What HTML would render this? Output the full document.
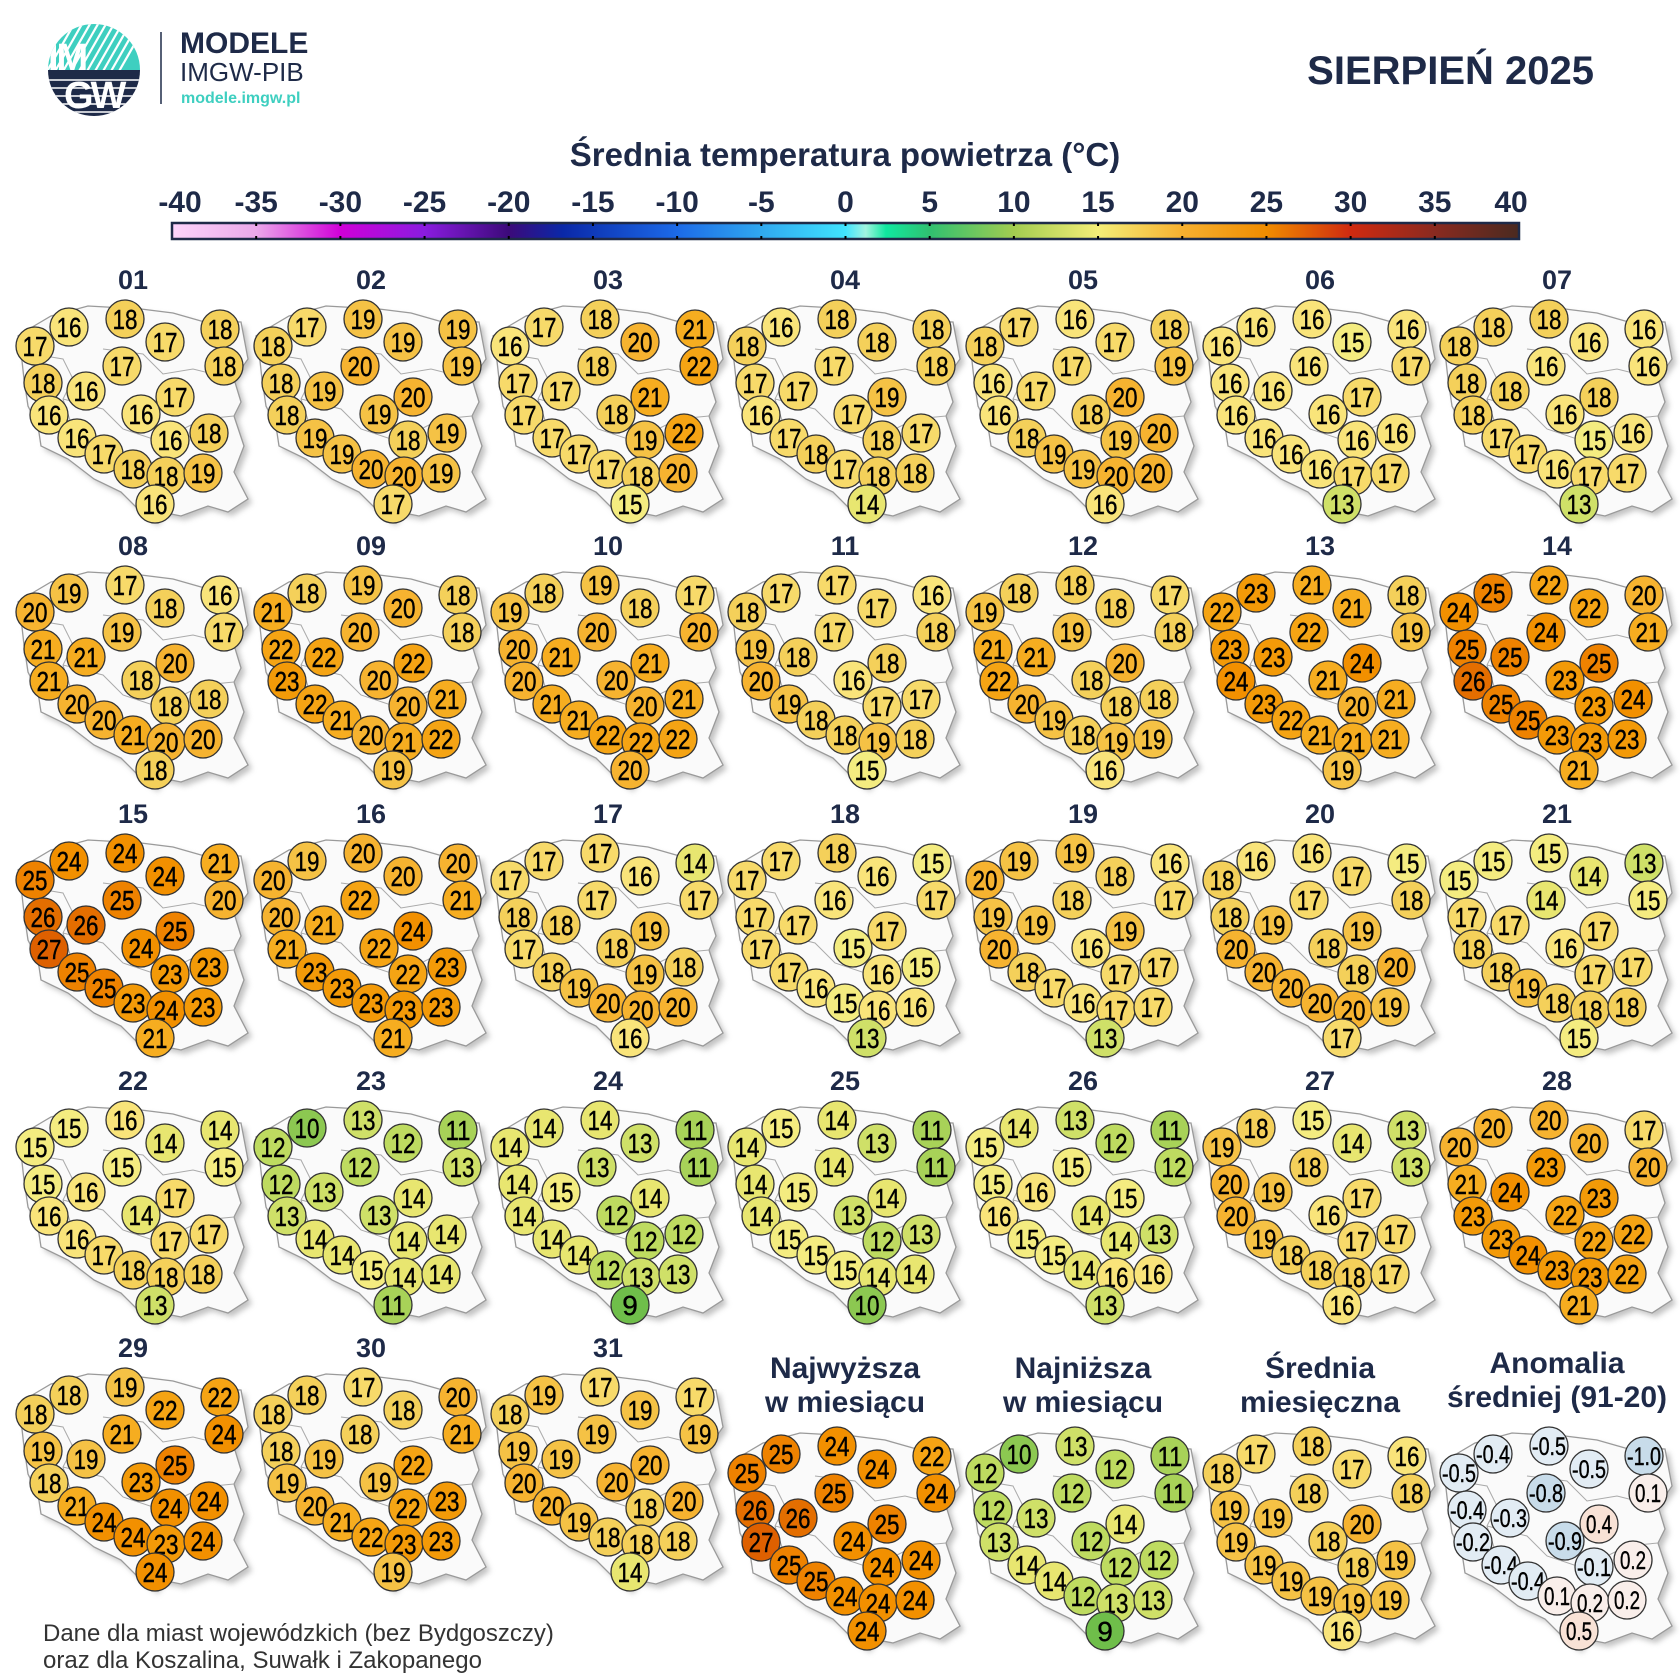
<!DOCTYPE html>
<html><head><meta charset="utf-8">
<style>
html,body{margin:0;padding:0;background:#fff;}
body{width:1680px;height:1680px;overflow:hidden;}
svg{display:block;}
</style></head>
<body>
<svg id="s" width="1680" height="1680" viewBox="0 0 1680 1680" xmlns="http://www.w3.org/2000/svg" font-family="Liberation Sans, sans-serif">
<defs>
<filter id="sh" x="-20%" y="-20%" width="140%" height="140%"><feGaussianBlur stdDeviation="3"/></filter>
<linearGradient id="cb" x1="0" x2="1" y1="0" y2="0">
<stop offset="0" stop-color="#fcd4fa"/>
<stop offset="0.0625" stop-color="#eba8ea"/>
<stop offset="0.125" stop-color="#d000d8"/>
<stop offset="0.1875" stop-color="#8a1ce0"/>
<stop offset="0.25" stop-color="#3c0a7a"/>
<stop offset="0.29" stop-color="#0a28a8"/>
<stop offset="0.375" stop-color="#1c6ae8"/>
<stop offset="0.4375" stop-color="#30a8f0"/>
<stop offset="0.5" stop-color="#40e4ff"/>
<stop offset="0.515" stop-color="#a0f4e0"/>
<stop offset="0.53" stop-color="#10e8a0"/>
<stop offset="0.5625" stop-color="#30c070"/>
<stop offset="0.625" stop-color="#a2cc50"/>
<stop offset="0.6875" stop-color="#f4ee78"/>
<stop offset="0.75" stop-color="#f6b030"/>
<stop offset="0.8125" stop-color="#f08c00"/>
<stop offset="0.875" stop-color="#d02a10"/>
<stop offset="0.9375" stop-color="#8a2a20"/>
<stop offset="1" stop-color="#4a2a20"/>
</linearGradient>
<clipPath id="lc"><circle cx="94" cy="70" r="46"/></clipPath>
</defs>
<g id="hdr">
<g clip-path="url(#lc)">
<rect x="48" y="24" width="92" height="46" fill="#3ecfc0"/>
<g stroke="#fff" stroke-width="2.2">
<line x1="50" y1="80" x2="90" y2="10"/><line x1="58" y1="80" x2="98" y2="10"/><line x1="66" y1="80" x2="106" y2="10"/><line x1="74" y1="80" x2="114" y2="10"/><line x1="82" y1="80" x2="122" y2="10"/><line x1="90" y1="80" x2="130" y2="10"/><line x1="98" y1="80" x2="138" y2="10"/><line x1="106" y1="80" x2="146" y2="10"/><line x1="114" y1="80" x2="154" y2="10"/><line x1="42" y1="80" x2="82" y2="10"/>
</g>
<rect x="48" y="70" width="92" height="48" fill="#1e2a48"/>
<g stroke="#fff" stroke-width="1.6"><line x1="40" y1="80" x2="150" y2="80"/><line x1="40" y1="88" x2="150" y2="88"/><line x1="40" y1="96" x2="150" y2="96"/><line x1="40" y1="104" x2="150" y2="104"/><line x1="40" y1="112" x2="150" y2="112"/></g>
<text x="48" y="70" font-size="38" font-weight="bold" fill="#fff" letter-spacing="-2">IM</text>
<text x="64" y="108" font-size="38" font-weight="bold" fill="#fff" letter-spacing="-3">GW</text>
</g>
<line x1="161" y1="32" x2="161" y2="104" stroke="#1e2a48" stroke-width="1.5"/>
<text x="180" y="53" font-size="30" font-weight="bold" fill="#1e2a48">MODELE</text>
<text x="180" y="81" font-size="26" fill="#1e2a48">IMGW-PIB</text>
<text x="181" y="103" font-size="16" font-weight="bold" fill="#3ecfc0">modele.imgw.pl</text>
<text x="1594" y="84" font-size="40" font-weight="bold" fill="#1e2a48" text-anchor="end">SIERPIEŃ 2025</text>
<text x="845" y="166" font-size="33" font-weight="bold" fill="#1e2a48" text-anchor="middle">Średnia temperatura powietrza (°C)</text>
<rect x="172" y="223" width="1347" height="16" fill="url(#cb)" stroke="#1e2a48" stroke-width="2.5"/>
</g>
<text x="43" y="1641" font-size="24" fill="#333">Dane dla miast wojewódzkich (bez Bydgoszczy)</text>
<text x="43" y="1668" font-size="24" fill="#333">oraz dla Koszalina, Suwałk i Zakopanego</text>
</svg>
<script>
var s=document.getElementById('s'),NS='http://www.w3.org/2000/svg';
function el(t,a,txt){var e=document.createElementNS(NS,t);for(var k in a)e.setAttribute(k,a[k]);if(txt!==undefined)e.textContent=txt;s.appendChild(e);return e;}
for(var i=0;i<=16;i++){var x=172+i*1347/16;var v=-40+5*i;
if(i>0&&i<16){el('line',{x1:x,y1:223,x2:x,y2:226,stroke:'#000','stroke-width':2});el('line',{x1:x,y1:236,x2:x,y2:239,stroke:'#000','stroke-width':2});}
el('text',{x:x+(i==0?8:(i==16?-8:0)),y:212,'font-size':30,'font-weight':'bold',fill:'#1e2a48','text-anchor':'middle'},String(v));}
var P=[[-64,48],[-8,40],[32,63],[87,50],[-98,67],[91,87],[-11,87],[-90,104],[-47,112],[42,118],[-84,136],[8,135],[-56,159],[37,161],[76,154],[-29,175],[0,190],[33,197],[70,194],[22,225]];
var OL=[[-82,37],[-45,27],[8,30],[40,34],[68,42],[108,43],[115,80],[101,100],[108,123],[101,137],[111,167],[101,193],[115,220],[95,233],[75,227],[48,237],[28,233],[21,243],[8,233],[-12,213],[-39,200],[-65,180],[-92,167],[-95,147],[-105,127],[-109,100],[-112,73],[-115,57],[-99,47]];
var D=[
[16,18,17,18,17,18,17,18,16,17,16,16,16,16,18,17,18,18,19,16],
[17,19,19,19,18,19,20,18,19,20,18,19,19,18,19,19,20,20,19,17],
[17,18,20,21,16,22,18,17,17,21,17,18,17,19,22,17,17,18,20,15],
[16,18,18,18,18,18,17,17,17,19,16,17,17,18,17,18,17,18,18,14],
[17,16,17,18,18,19,17,16,17,20,16,18,18,19,20,19,19,20,20,16],
[16,16,15,16,16,17,16,16,16,17,16,16,16,16,16,16,16,17,17,13],
[18,18,16,16,18,16,16,18,18,18,18,16,17,15,16,17,16,17,17,13],
[19,17,18,16,20,17,19,21,21,20,21,18,20,18,18,20,21,20,20,18],
[18,19,20,18,21,18,20,22,22,22,23,20,22,20,21,21,20,21,22,19],
[18,19,18,17,19,20,20,20,21,21,20,20,21,20,21,21,22,22,22,20],
[17,17,17,16,18,18,17,19,18,18,20,16,19,17,17,18,18,19,18,15],
[18,18,18,17,19,18,19,21,21,20,22,18,20,18,18,19,18,19,19,16],
[23,21,21,18,22,19,22,23,23,24,24,21,23,20,21,22,21,21,21,19],
[25,22,22,20,24,21,24,25,25,25,26,23,25,23,24,25,23,23,23,21],
[24,24,24,21,25,20,25,26,26,25,27,24,25,23,23,25,23,24,23,21],
[19,20,20,20,20,21,22,20,21,24,21,22,23,22,23,23,23,23,23,21],
[17,17,16,14,17,17,17,18,18,19,17,18,18,19,18,19,20,20,20,16],
[17,18,16,15,17,17,16,17,17,17,17,15,17,16,15,16,15,16,16,13],
[19,19,18,16,20,17,18,19,19,19,20,16,18,17,17,17,16,17,17,13],
[16,16,17,15,18,18,17,18,19,19,20,18,20,18,20,20,20,20,19,17],
[15,15,14,13,15,15,14,17,17,17,18,16,18,17,17,19,18,18,18,15],
[15,16,14,14,15,15,15,15,16,17,16,14,16,17,17,17,18,18,18,13],
[10,13,12,11,12,13,12,12,13,14,13,13,14,14,14,14,15,14,14,11],
[14,14,13,11,14,11,13,14,15,14,14,12,14,12,12,14,12,13,13,9],
[15,14,13,11,14,11,14,14,15,14,14,13,15,12,13,15,15,14,14,10],
[14,13,12,11,15,12,15,15,16,15,16,14,15,14,13,15,14,16,16,13],
[18,15,14,13,19,13,18,20,19,17,20,16,19,17,17,18,18,18,17,16],
[20,20,20,17,20,20,23,21,24,23,23,22,23,22,22,24,23,23,22,21],
[18,19,22,22,18,24,21,19,19,25,18,23,21,24,24,24,24,23,24,24],
[18,17,18,20,18,21,18,18,19,22,19,19,20,22,23,21,22,23,23,19],
[19,17,19,17,18,19,19,19,19,20,20,20,20,18,20,19,18,18,18,14]];
var MX=[25,24,24,22,25,24,25,26,26,25,27,24,25,24,24,25,24,24,24,24];
var MN=[10,13,12,11,12,11,12,12,13,14,13,12,14,12,12,14,12,13,13,9];
var AV=[17,18,17,16,18,18,18,19,19,20,19,18,19,18,19,19,19,19,19,16];
var AN=['-0.4','-0.5','-0.5','-1.0','-0.5','0.1','-0.8','-0.4','-0.3','0.4','-0.2','-0.9','-0.4','-0.1','0.2','-0.4','0.1','0.2','0.2','0.5'];
var CS=[[9,[111,190,74]],[11,[168,210,88]],[12,[190,219,96]],[13,[207,224,104]],[14,[232,230,112]],[15,[244,236,128]],[16,[249,228,122]],[18,[244,208,90]],[20,[246,179,48]],[21,[246,173,32]],[23,[243,154,8]],[24,[242,144,0]],[25,[238,130,0]],[26,[228,110,0]],[27,[222,96,0]]];
function col(v){if(v<=CS[0][0])return 'rgb('+CS[0][1]+')';for(var i=1;i<CS.length;i++){if(v<=CS[i][0]){var a=CS[i-1],b=CS[i],t=(v-a[0])/(b[0]-a[0]);return 'rgb('+[0,1,2].map(function(k){return Math.round(a[1][k]+(b[1][k]-a[1][k])*t)}).join(',')+')';}}return 'rgb('+CS[CS.length-1][1]+')';}
function acol(v){v=parseFloat(v);if(v<=-0.8)return '#c8dcea';if(v<0)return '#e2ecf4';if(v>=0.4)return '#f8e2d6';return '#f9eeea';}
function map(cx,cy,vals,anom){
var pts=OL.map(function(p){return (cx+p[0])+','+(cy+p[1])}).join(' ');
var sp=OL.map(function(p){return (cx+p[0]+4)+','+(cy+p[1]+4)}).join(' ');
el('polygon',{points:sp,fill:'#999',opacity:0.6,filter:'url(#sh)'});
el('polygon',{points:pts,fill:'#fafafa',stroke:'#9a9a9a','stroke-width':1.3});
el('polyline',{points:[[-100,75],[-70,80],[-60,100],[-70,120],[-60,150]].map(function(p){return (cx+p[0])+','+(cy+p[1])}).join(' '),fill:'none',stroke:'#aaa','stroke-width':1});
el('polyline',{points:[[-30,70],[10,75],[30,95],[60,90],[80,95],[101,100]].map(function(p){return (cx+p[0])+','+(cy+p[1])}).join(' '),fill:'none',stroke:'#aaa','stroke-width':1});
el('polyline',{points:[[-70,120],[-30,130],[-10,150],[20,160],[50,150],[70,140],[101,137]].map(function(p){return (cx+p[0])+','+(cy+p[1])}).join(' '),fill:'none',stroke:'#aaa','stroke-width':1});
for(var i=0;i<20;i++){var x=cx+P[i][0],y=cy+P[i][1];var t=String(vals[i]);
el('circle',{cx:x,cy:y,r:19,fill:anom?acol(vals[i]):col(vals[i]),stroke:'#333','stroke-width':1.3});
var a={x:x,y:y+(anom?9:10),'font-size':anom?25:28,'text-anchor':'middle',fill:'#000',stroke:'#000','stroke-width':0.4};
if(anom){a.textLength=t.length==4?34:26;a.lengthAdjust='spacingAndGlyphs';}
else if(t.length==2){a.textLength=25;a.lengthAdjust='spacingAndGlyphs';}
el('text',a,t);}
}
var CX=[133,371,608,845,1083,1320,1557],RY=[279,545,813,1080,1347];
for(var d=0;d<31;d++){var c=d%7,r=Math.floor(d/7);
el('text',{x:CX[c],y:RY[r]+10,'font-size':27,'font-weight':'bold',fill:'#1e2a48','text-anchor':'middle'},(d<9?'0':'')+(d+1));
map(CX[c],RY[r],D[d],false);}
var T=[['Najwyższa','w miesiącu'],['Najniższa','w miesiącu'],['Średnia','miesięczna'],['Anomalia','średniej (91-20)']];
var SV=[MX,MN,AV,AN];
for(var k=0;k<4;k++){var x=CX[3+k];var dy=k==3?-5:0;
el('text',{x:x,y:1378+dy,'font-size':30,'font-weight':'bold',fill:'#1e2a48','text-anchor':'middle'},T[k][0]);
el('text',{x:x,y:1412+dy,'font-size':30,'font-weight':'bold',fill:'#1e2a48','text-anchor':'middle'},T[k][1]);
map(x,1406,SV[k],k==3);}
</script>
</body></html>
